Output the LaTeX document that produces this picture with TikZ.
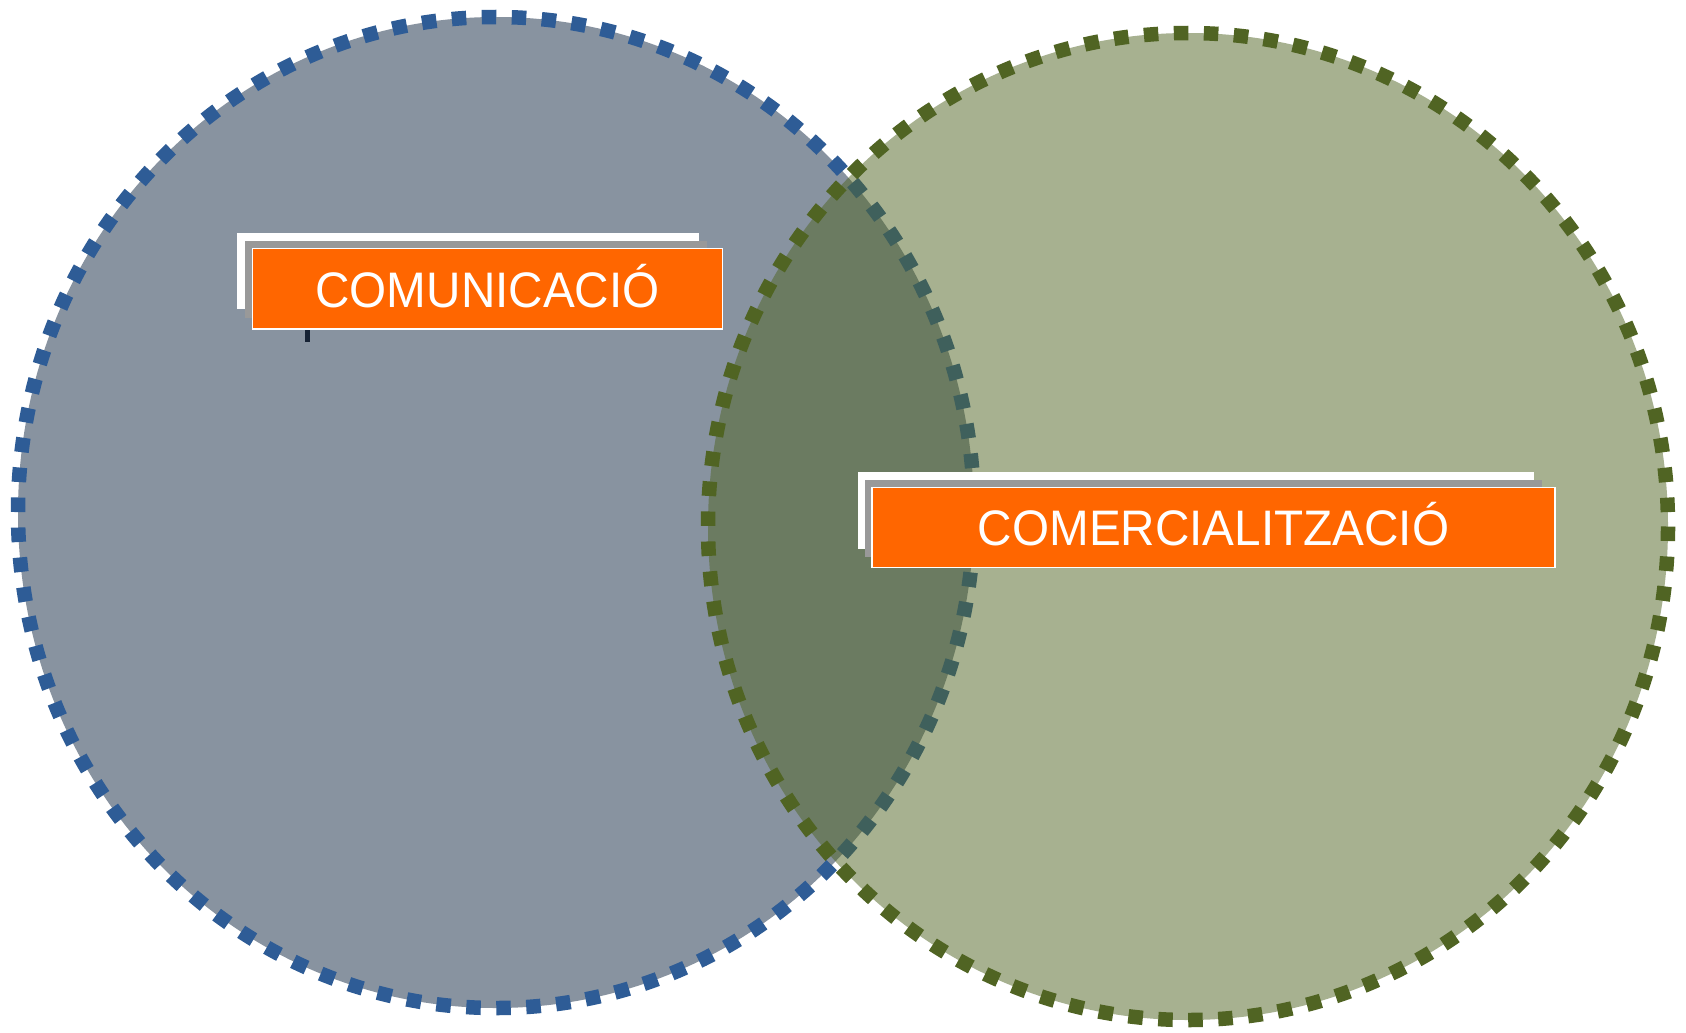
\documentclass[tikz,border=0pt]{standalone}
\usepackage{fontspec}
\setmainfont{Liberation Sans}
\usepackage{graphicx}
\definecolor{leftfill}{RGB}{136,147,160}
\definecolor{leftdash}{RGB}{46,92,150}
\definecolor{rightdash}{RGB}{80,100,35}
\definecolor{boxgray}{RGB}{153,153,153}
\definecolor{boxorange}{RGB}{255,102,0}
\definecolor{tick}{RGB}{22,34,52}
\tikzset{
  dotring/.style={line width=14.5pt, dash pattern=on 14.5pt off 15.5pt},
  backwhite/.style={fill=white, draw=none, inner sep=0pt},
  backgray/.style={fill=boxgray, draw=none, inner sep=0pt},
  frontbox/.style={fill=boxorange, draw=white, line width=1.5pt, inner sep=0pt},
  labeltext/.style={text=white, inner sep=0pt, anchor=base,
    font=\fontsize{49.9}{50}\selectfont}
}
\begin{document}
\begin{tikzpicture}[x=1pt,y=-1pt]
\useasboundingbox (0,0) rectangle (1686,1033);
\fill[white] (0,0) rectangle (1686,1033);
% circles
\draw[dotring, draw=leftdash, fill=leftfill] (496,512.5) ellipse [x radius=478, y radius=495.5];
\draw[dotring, draw=rightdash, fill=rightdash, fill opacity=0.5] (1188,526.5) ellipse [x radius=480, y radius=493.5];
% left label
\node[backwhite, minimum width=462.3pt, minimum height=76pt] (lw) at (467.9,271.3) {};
\node[backgray, minimum width=461.7pt, minimum height=76.7pt] (lg) at (475.8,279.3) {};
\node[frontbox, minimum width=470.4pt, minimum height=80.7pt] (lo) at (487.5,288.7) {};
\node[labeltext] (lt) at (487.5,307.3) {\scalebox{0.955}[1]{COMUNICACIÓ}};
\fill[tick] (304.5,330) rectangle (310,342);
% right label
\node[backwhite, minimum width=676.2pt, minimum height=76.4pt] (rw) at (1195.6,510.5) {};
\node[backgray, minimum width=676.7pt, minimum height=76.7pt] (rg) at (1203.3,518.3) {};
\node[frontbox, minimum width=683pt, minimum height=80pt] (ro) at (1213.5,527.3) {};
\node[labeltext] (rt) at (1213.5,545.7) {\scalebox{0.955}[1]{COMERCIALITZACIÓ}};
\end{tikzpicture}
\end{document}
